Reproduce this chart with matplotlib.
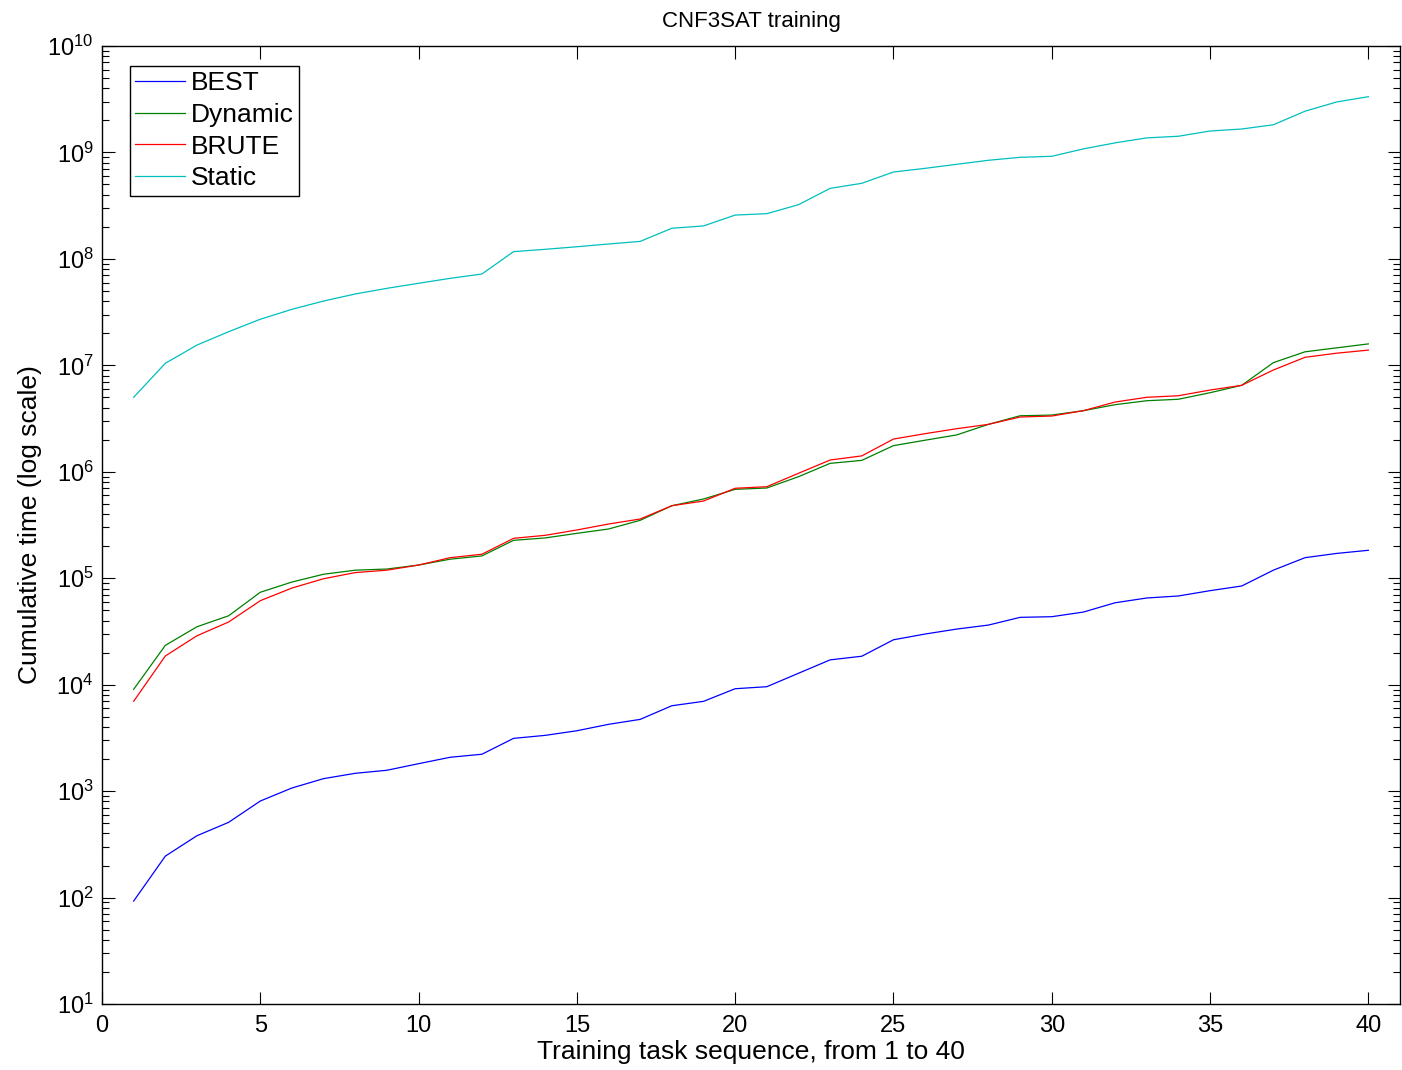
import matplotlib
matplotlib.use("Agg")
import matplotlib.pyplot as plt
import numpy as np
from matplotlib.ticker import FixedLocator, LogLocator, NullFormatter

plt.rcParams['font.family'] = ['Liberation Sans', 'DejaVu Sans']
plt.rcParams['mathtext.fontset'] = 'custom'
plt.rcParams['mathtext.rm'] = 'Liberation Sans'
plt.rcParams['mathtext.it'] = 'Liberation Sans:italic'
plt.rcParams['mathtext.bf'] = 'Liberation Sans:bold'

tasks = list(range(1, 41))

best = [92.7, 245, 381, 509, 807, 1.07e3, 1.31e3, 1.47e3, 1.57e3, 1.81e3,
        2.08e3, 2.22e3, 3.13e3, 3.34e3, 3.69e3, 4.24e3, 4.72e3, 6.34e3, 6.97e3, 9.16e3,
        9.57e3, 1.28e4, 1.71e4, 1.85e4, 2.64e4, 2.99e4, 3.33e4, 3.63e4, 4.29e4, 4.35e4,
        4.81e4, 5.88e4, 6.52e4, 6.81e4, 7.64e4, 8.45e4, 1.19e5, 1.56e5, 1.71e5, 1.83e5]

dynamic = [9.04e3, 2.34e4, 3.50e4, 4.44e4, 7.38e4, 9.21e4, 1.09e5, 1.19e5, 1.22e5, 1.33e5,
           1.51e5, 1.62e5, 2.27e5, 2.39e5, 2.64e5, 2.90e5, 3.50e5, 4.80e5, 5.55e5, 6.84e5,
           7.04e5, 8.99e5, 1.20e6, 1.28e6, 1.76e6, 1.98e6, 2.22e6, 2.79e6, 3.36e6, 3.41e6,
           3.75e6, 4.27e6, 4.65e6, 4.80e6, 5.53e6, 6.49e6, 1.06e7, 1.34e7, 1.46e7, 1.59e7]

brute = [6.98e3, 1.86e4, 2.88e4, 3.88e4, 6.15e4, 8.09e4, 9.89e4, 1.13e5, 1.19e5, 1.33e5,
         1.56e5, 1.68e5, 2.37e5, 2.53e5, 2.84e5, 3.23e5, 3.60e5, 4.80e5, 5.31e5, 7.00e5,
         7.24e5, 9.68e5, 1.29e6, 1.41e6, 2.03e6, 2.28e6, 2.54e6, 2.79e6, 3.27e6, 3.34e6,
         3.75e6, 4.52e6, 5.01e6, 5.18e6, 5.86e6, 6.49e6, 9.04e6, 1.19e7, 1.30e7, 1.39e7]

static = [5.01e6, 1.045e7, 1.55e7, 2.07e7, 2.71e7, 3.36e7, 4.02e7, 4.68e7, 5.29e7, 5.90e7,
          6.57e7, 7.21e7, 1.17e8, 1.23e8, 1.30e8, 1.38e8, 1.46e8, 1.94e8, 2.04e8, 2.58e8,
          2.66e8, 3.23e8, 4.60e8, 5.13e8, 6.55e8, 7.09e8, 7.74e8, 8.44e8, 9.00e8, 9.20e8,
          1.08e9, 1.23e9, 1.37e9, 1.42e9, 1.59e9, 1.66e9, 1.82e9, 2.44e9, 2.98e9, 3.34e9]

series_names = ['BEST', 'Dynamic', 'BRUTE', 'Static']
series_colors = ['#0000ff', '#008000', '#ff0000', '#00bfbf']
y_ticks = [10.0 ** k for k in range(1, 11)]
x_ticks = list(range(0, 41, 5))

fig = plt.figure(figsize=(14.02, 10.70), dpi=100)
ax = fig.add_axes([102/1402, 66/1070, 1298/1402, 958/1070])

for name, vals, col in zip(series_names, [best, dynamic, brute, static], series_colors):
    ax.plot(tasks, vals, color=col, linewidth=0.9, label=name)

ax.set_yscale('log')
ax.set_xlim(0, 41)
ax.set_ylim(1e1, 1e10)
ax.set_xticks(x_ticks)
ax.yaxis.set_major_locator(FixedLocator(y_ticks))
ax.yaxis.set_minor_locator(LogLocator(base=10, subs=np.arange(2, 10), numticks=20))
ax.yaxis.set_minor_formatter(NullFormatter())

ax.tick_params(which='both', direction='in', top=True, right=True, colors='black')
ax.tick_params(which='major', length=9, width=0.8, labelsize=17)
ax.tick_params(which='minor', length=5, width=0.8)
ax.tick_params(axis='x', pad=8)
ax.tick_params(axis='y', pad=6)
for s in ax.spines.values():
    s.set_linewidth(1.0)

ax.set_title('CNF3SAT training', fontsize=16, pad=13.5)
ax.set_xlabel('Training task sequence, from 1 to 40', fontsize=19, labelpad=2)
ax.set_ylabel('Cumulative time (log scale)', fontsize=19, labelpad=4)

leg = ax.legend(loc='upper left', bbox_to_anchor=(0.0216, 0.979), borderaxespad=0,
                fontsize=19, frameon=True, fancybox=False, edgecolor='black',
                handlelength=1.9, handletextpad=0.2, labelspacing=0.29,
                borderpad=0.2, framealpha=1)
leg.get_frame().set_linewidth(1.0)

fig.savefig('out.png', dpi=100)
